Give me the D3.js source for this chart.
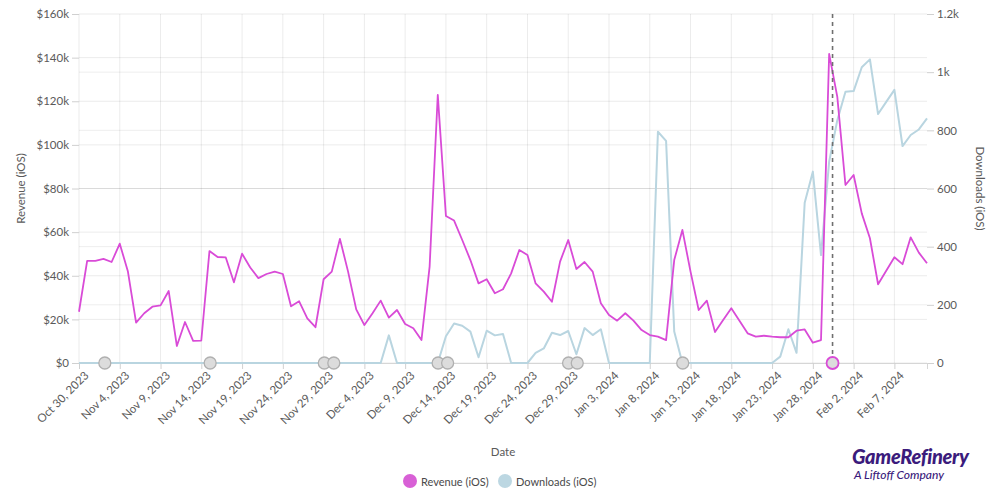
<!DOCTYPE html>
<html>
<head>
<meta charset="utf-8">
<script src="https://cdn.jsdelivr.net/npm/d3@7"></script>
<style>
  html, body { margin: 0; padding: 0; background: #fff; }
  svg { display: block; font-family: Lato, "Open Sans", sans-serif; }
</style>
</head>
<body>
<svg id="chart" width="1000" height="499"></svg>
<script>
// ---- data ----
const startDate = "2023-10-30";
const endDate = "2024-02-11";
// daily revenue (iOS), USD thousands, from Oct 30, 2023
const revenueK = [
  23.5, 46.8, 46.8, 47.7, 46.3, 54.7, 41.9, 18.5, 22.8, 25.8,
  26.4, 33.0, 7.8, 18.8, 10.1, 10.3, 51.3, 48.6, 48.4, 37.0,
  50.1, 43.8, 38.9, 40.8, 41.9, 40.8, 26.0, 28.3, 20.5, 16.4,
  38.4, 41.9, 56.9, 41.9, 24.6, 17.4, 22.8, 28.6, 20.8, 24.3,
  17.9, 15.9, 10.5, 44.2, 122.9, 67.4, 65.3, 56.4, 47.2, 36.5,
  38.4, 32.0, 33.8, 41.1, 51.8, 49.5, 36.5, 32.7, 28.1, 46.5,
  56.4, 43.1, 46.3, 41.9, 27.4, 22.0, 19.4, 22.8, 19.4, 15.1,
  12.8, 12.1, 10.5, 47.2, 61.0, 41.9, 24.3, 28.6, 14.2, 19.7,
  25.1, 19.4, 13.6, 12.1, 12.5, 12.1, 11.8, 11.8, 14.8, 15.4,
  9.3, 10.5, 141.7, 122.0, 81.6, 86.2, 68.6, 57.2, 36.1, 42.3,
  48.5, 45.3, 57.6, 50.6, 45.7
];
// daily downloads (iOS)
const downloads = [
  0, 0, 0, 0, 0, 0, 0, 0, 0, 0,
  0, 0, 0, 0, 0, 0, 0, 0, 0, 0,
  0, 0, 0, 0, 0, 0, 0, 0, 0, 0,
  0, 0, 0, 0, 0, 0, 0, 0, 95, 0,
  0, 0, 0, 0, 0, 92, 136, 128, 108, 20,
  111, 95, 100, 0, 0, 0, 35, 50, 104, 96,
  110, 30, 120, 96, 116, 0, 0, 0, 0, 0,
  0, 795, 764, 108, 0, 0, 0, 0, 0, 0,
  0, 0, 0, 0, 0, 0, 22, 116, 35, 551,
  658, 371, 692, 835, 933, 935, 1017, 1044, 856, 898,
  939, 746, 784, 803, 841
];
const annotationTimes = [
  "2023-11-02T04:00", "2023-11-15T02:00", "2023-11-29T02:00", "2023-11-30T06:00",
  "2023-12-13T01:00", "2023-12-14T05:00", "2023-12-29T01:00", "2023-12-30T02:30",
  "2024-01-12T01:00"
];
const markerTime = "2024-01-30T10:00";
const revenueTicks = [0, 20, 40, 60, 80, 100, 120, 140, 160];
const revenueTickLabels = ["$0", "$20k", "$40k", "$60k", "$80k", "$100k", "$120k", "$140k", "$160k"];
const downloadTicks = [0, 200, 400, 600, 800, 1000, 1200];
const downloadTickLabels = ["0", "200", "400", "600", "800", "1k", "1.2k"];
const seriesNames = ["Revenue (iOS)", "Downloads (iOS)"];

// ---- setup ----
const svg = d3.select("#chart");
const m = { left: 79, right: 927, top: 14, bottom: 363 };
const parseDay = d3.timeParse("%Y-%m-%d");
const parseTime = d3.timeParse("%Y-%m-%dT%H:%M");
const t0 = parseDay(startDate), t1 = parseDay(endDate);
const dates = revenueK.map((_, i) => d3.timeDay.offset(t0, i));

const x = d3.scaleTime().domain([t0, t1]).range([m.left, m.right]);
const yL = d3.scaleLinear().domain([0, 160]).range([m.bottom, m.top]);
const yR = d3.scaleLinear().domain([0, 1200]).range([m.bottom, m.top]);

const revColor = "#d94bd7";
const dlColor = "#b9d5e0";
const textColor = "#5a5a5a";

// x tick dates every 5 days
const xTicks = d3.timeDay.every(1).range(t0, d3.timeDay.offset(t1, 1)).filter((d, i) => i % 5 === 0);

// grid
const grid = svg.append("g");
grid.selectAll(".vg").data(xTicks).join("line")
  .attr("x1", d => x(d)).attr("x2", d => x(d))
  .attr("y1", m.top).attr("y2", m.bottom)
  .attr("stroke", "#000").attr("stroke-opacity", 0.08);
grid.selectAll(".hgl").data(revenueTicks).join("line")
  .attr("x1", m.left).attr("x2", m.right)
  .attr("y1", d => yL(d)).attr("y2", d => yL(d))
  .attr("stroke", "#000").attr("stroke-opacity", 0.08);
grid.selectAll(".hgr").data(downloadTicks.slice(1, -1)).join("line")
  .attr("x1", m.left).attr("x2", m.right)
  .attr("y1", d => yR(d)).attr("y2", d => yR(d))
  .attr("stroke", "#000").attr("stroke-opacity", 0.07);

// left axis
const axL = d3.axisLeft(yL).tickValues(revenueTicks)
  .tickFormat((d, i) => revenueTickLabels[i]).tickSize(7).tickPadding(3);
const gL = svg.append("g").attr("transform", `translate(${m.left},0)`).call(axL);
gL.select(".domain").remove();
gL.selectAll(".tick line").attr("stroke", "#d0d0d0");
gL.selectAll("text").attr("fill", textColor).style("font-size", "11.5px").style("font-family", "Lato, sans-serif");

// right axis
const axR = d3.axisRight(yR).tickValues(downloadTicks)
  .tickFormat((d, i) => downloadTickLabels[i]).tickSize(7).tickPadding(3);
const gR = svg.append("g").attr("transform", `translate(${m.right},0)`).call(axR);
gR.select(".domain").remove();
gR.selectAll(".tick line").attr("stroke", "#d0d0d0");
gR.selectAll("text").attr("fill", textColor).style("font-size", "11.5px").style("font-family", "Lato, sans-serif");

// bottom axis
const fmt = d3.timeFormat("%b %-d, %Y");
const axB = d3.axisBottom(x).tickValues(xTicks).tickFormat(fmt).tickSize(6).tickPadding(4);
const gB = svg.append("g").attr("transform", `translate(0,${m.bottom})`).call(axB);
gB.select(".domain").attr("stroke", "#d6d6d6");
gB.selectAll(".tick line").attr("stroke", "#d0d0d0");
gB.selectAll("text")
  .attr("fill", textColor).style("font-size", "11.5px").style("font-family", "Lato, sans-serif")
  .attr("text-anchor", "end")
  .attr("dx", "-0.2em").attr("dy", "0.55em")
  .attr("transform", "rotate(-45)");

// axis titles
svg.append("text").attr("transform", `translate(20,${(m.top + m.bottom) / 2}) rotate(-90)`)
  .attr("text-anchor", "middle").attr("dominant-baseline", "central")
  .attr("fill", textColor).style("font-size", "11.5px").text("Revenue (iOS)");
svg.append("text").attr("transform", `translate(980,${(m.top + m.bottom) / 2}) rotate(90)`)
  .attr("text-anchor", "middle").attr("dominant-baseline", "central")
  .attr("fill", textColor).style("font-size", "11.5px").text("Downloads (iOS)");
svg.append("text").attr("x", 503).attr("y", 456).attr("text-anchor", "middle")
  .attr("fill", textColor).style("font-size", "11.5px").text("Date");

// lines
const dlLine = d3.line().x((d, i) => x(dates[i])).y(d => yR(d));
svg.append("path").datum(downloads).attr("d", dlLine)
  .attr("fill", "none").attr("stroke", dlColor).attr("stroke-width", 2).attr("stroke-linejoin", "round");
const revLine = d3.line().x((d, i) => x(dates[i])).y(d => yL(d));
svg.append("path").datum(revenueK).attr("d", revLine)
  .attr("fill", "none").attr("stroke", revColor).attr("stroke-width", 1.8).attr("stroke-linejoin", "round");

// marker dashed line
const mt = parseTime(markerTime);
svg.append("line").attr("x1", x(mt)).attr("x2", x(mt)).attr("y1", m.top).attr("y2", m.bottom)
  .attr("stroke", "#6f6f6f").attr("stroke-width", 1.6).attr("stroke-dasharray", "4,4");

// annotation circles
svg.append("g").selectAll("circle").data(annotationTimes.map(parseTime)).join("circle")
  .attr("cx", d => x(d)).attr("cy", m.bottom).attr("r", 6)
  .attr("fill", "#dcdcdc").attr("stroke", "#b0b0b0").attr("stroke-width", 1.3);
svg.append("circle").attr("cx", x(mt)).attr("cy", m.bottom).attr("r", 6)
  .attr("fill", "#dcdcdc").attr("stroke", revColor).attr("stroke-width", 1.8);

// legend
const legend = svg.append("g");
const legendItems = [
  { name: seriesNames[0], color: "#d860d6", cx: 410 },
  { name: seriesNames[1], color: "#bcd7e2", cx: 505 }
];
legendItems.forEach(it => {
  legend.append("circle").attr("cx", it.cx).attr("cy", 481).attr("r", 7).attr("fill", it.color);
  legend.append("text").attr("x", it.cx + 11).attr("y", 481).attr("dominant-baseline", "central")
    .attr("fill", "#4a4a4a").style("font-size", "11px").text(it.name);
});

// logo
svg.append("text").attr("x", 852).attr("y", 464)
  .attr("fill", "#3b1b7c").style("font-size", "20px").style("font-weight", 900).style("font-style", "italic")
  .style("letter-spacing", "-0.3px").text("GameRefinery");
svg.append("text").attr("x", 854).attr("y", 479)
  .attr("fill", "#3b1b7c").style("font-size", "12px").style("font-style", "italic").style("font-weight", 500)
  .text("A Liftoff Company");
</script>
</body>
</html>
